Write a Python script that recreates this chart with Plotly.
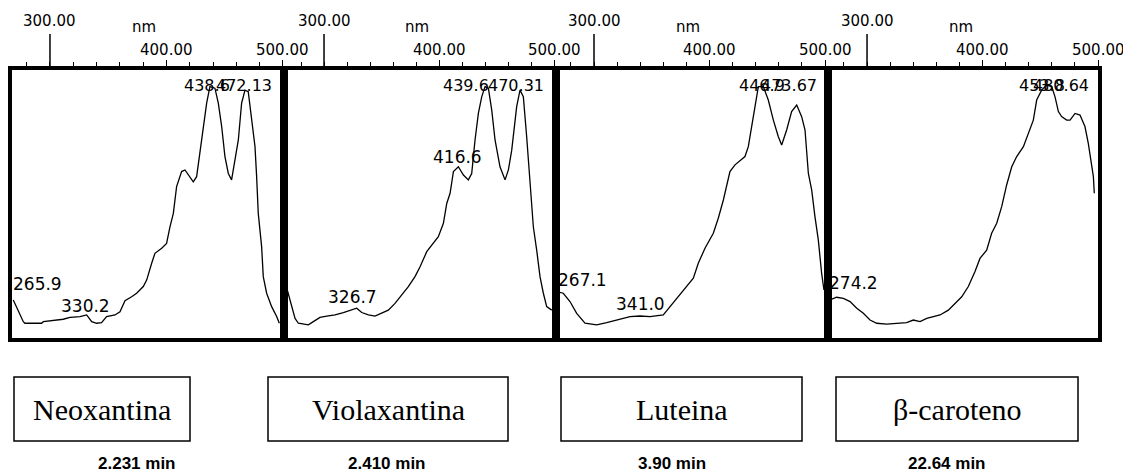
import plotly.graph_objects as go

W, H = 1123, 474

# ---------------- data ----------------
compounds = ["Neoxantina", "Violaxantina", "Luteina", "β-caroteno"]
ret_times = ["2.231 min", "2.410 min", "3.90 min", "22.64 min"]

neo_nm = [268.5, 272.8, 277.1, 278.5, 292.8, 294.3, 311.4, 317.2, 325.8, 331.5, 335.8, 340.1,
          344.3, 348.6, 355.8, 360.1, 364.4, 370.1, 374.4, 380.1, 383.0, 387.3, 390.1, 395.9,
          400.1, 403.0, 405.9, 408.7, 413.0, 415.9, 420.2, 423.0, 425.9, 428.8, 431.6, 434.5,
          437.3, 441.6, 444.5, 447.4, 450.2, 453.1, 455.9, 458.8, 461.7, 464.5, 467.4, 470.2,
          473.1, 476.0, 477.4, 478.8, 481.7, 483.1, 486.0, 490.3, 494.6, 496.9]
neo_abs = [0.142, 0.104, 0.061, 0.055, 0.055, 0.061, 0.070, 0.077, 0.080, 0.086, 0.061, 0.055,
           0.057, 0.080, 0.086, 0.098, 0.139, 0.154, 0.167, 0.192, 0.216, 0.279, 0.316, 0.335,
           0.353, 0.415, 0.465, 0.565, 0.621, 0.627, 0.602, 0.583, 0.602, 0.701, 0.789, 0.876,
           0.938, 0.932, 0.876, 0.789, 0.677, 0.614, 0.590, 0.664, 0.739, 0.876, 0.925, 0.919,
           0.826, 0.714, 0.602, 0.465, 0.341, 0.229, 0.167, 0.117, 0.080, 0.055]

vio_nm = [266.1, 269.0, 271.9, 274.8, 277.7, 286.4, 290.7, 296.5, 302.3, 309.6, 316.8, 322.6,
          328.4, 332.8, 338.6, 344.3, 350.1, 355.9, 361.7, 367.5, 373.3, 379.1, 383.5, 389.3,
          395.1, 399.4, 403.8, 406.7, 409.6, 412.5, 416.8, 421.2, 425.5, 428.4, 431.3, 434.2,
          437.1, 440.0, 442.9, 445.8, 448.7, 453.0, 457.4, 460.3, 463.2, 467.5, 470.4, 473.3,
          476.2, 479.1, 482.0, 484.9, 487.8, 490.7, 493.6, 498.0]
vio_abs = [0.210, 0.167, 0.117, 0.073, 0.055, 0.049, 0.061, 0.077, 0.082, 0.086, 0.095, 0.102,
           0.111, 0.095, 0.086, 0.082, 0.092, 0.104, 0.129, 0.160, 0.192, 0.229, 0.266, 0.322,
           0.356, 0.378, 0.428, 0.502, 0.540, 0.621, 0.639, 0.608, 0.590, 0.614, 0.739, 0.838,
           0.900, 0.938, 0.932, 0.851, 0.739, 0.639, 0.590, 0.627, 0.701, 0.863, 0.925, 0.900,
           0.751, 0.565, 0.415, 0.328, 0.229, 0.167, 0.117, 0.104]

lut_nm = [267.7, 273.4, 279.2, 285.0, 292.2, 302.3, 311.0, 319.6, 331.2, 339.8, 348.5, 360.0,
          365.8, 373.0, 380.2, 386.0, 390.3, 396.1, 403.3, 407.6, 412.0, 414.9, 417.7, 422.1,
          427.8, 430.7, 433.6, 436.5, 439.4, 442.3, 446.6, 450.9, 455.3, 459.6, 462.5, 466.8,
          471.1, 475.5, 479.8, 482.7, 485.6, 488.5, 491.3, 494.2, 497.1, 499.1]
lut_abs = [0.173, 0.167, 0.136, 0.092, 0.055, 0.049, 0.057, 0.067, 0.080, 0.082, 0.080, 0.086,
           0.117, 0.154, 0.192, 0.223, 0.279, 0.335, 0.391, 0.447, 0.515, 0.565, 0.621, 0.646,
           0.667, 0.677, 0.714, 0.789, 0.851, 0.938, 0.938, 0.888, 0.813, 0.751, 0.720, 0.776,
           0.845, 0.869, 0.826, 0.776, 0.614, 0.552, 0.453, 0.366, 0.241, 0.179]

bcar_nm = [268.0, 273.7, 279.5, 285.3, 291.1, 296.8, 302.6, 308.4, 317.0, 325.7, 334.3, 340.1,
           345.9, 351.7, 357.4, 363.2, 370.4, 376.2, 382.0, 387.7, 393.5, 397.8, 403.6, 407.9,
           412.3, 416.6, 420.9, 425.3, 429.6, 435.4, 439.7, 444.0, 446.9, 451.2, 455.6, 459.9,
           462.8, 465.7, 468.5, 472.9, 475.8, 480.1, 484.4, 488.7, 491.6, 494.5, 496.0, 496.8]
bcar_abs = [0.142, 0.152, 0.148, 0.136, 0.111, 0.092, 0.067, 0.055, 0.052, 0.055, 0.057, 0.067,
            0.061, 0.073, 0.080, 0.086, 0.104, 0.129, 0.154, 0.192, 0.248, 0.297, 0.328, 0.391,
            0.428, 0.490, 0.571, 0.639, 0.677, 0.714, 0.764, 0.813, 0.888, 0.925, 0.944, 0.938,
            0.900, 0.845, 0.826, 0.813, 0.813, 0.838, 0.832, 0.789, 0.726, 0.652, 0.602, 0.540]

# peak labels: (text, wavelength position, absorbance position, anchor, font size)
neo_labels = [("265.9", 267.4, 0.201, "left", 17), ("330.2", 308.6, 0.119, "left", 17),
              ("472.13", 491.4, 0.944, "right", 16), ("438.6", 414.2, 0.944, "left", 16)]
vio_labels = [("326.7", 302.6, 0.153, "left", 17), ("416.6", 393.9, 0.675, "left", 17),
              ("470.31", 492.2, 0.944, "right", 16), ("439.6", 402.6, 0.944, "left", 16)]
lut_labels = [("267.1", 268.0, 0.216, "left", 17), ("341.0", 318.2, 0.127, "left", 17),
              ("473.67", 493.9, 0.944, "right", 16), ("446.9", 424.7, 0.944, "left", 16)]
bcar_labels = [("274.2", 266.2, 0.205, "left", 17),
               ("480.64", 493.1, 0.944, "right", 16), ("453.8", 430.7, 0.944, "left", 16)]

axis_ticks = [300, 400, 500]
axis_ticktext = ["300.00", "400.00", "500.00"]
axis_unit = "nm"

# ---------------- layout helpers ----------------
def py(pix):
    return 1 - pix / H

def px(pix):
    return pix / W

panels = [
    dict(nm=neo_nm, ab=neo_abs, labels=neo_labels, rng=[267.4, 500.9], dom=[12, 284]),
    dict(nm=vio_nm, ab=vio_abs, labels=vio_labels, rng=[265.2, 501.7], dom=[284, 556]),
    dict(nm=lut_nm, ab=lut_abs, labels=lut_labels, rng=[267.1, 502.6], dom=[556, 828]),
    dict(nm=bcar_nm, ab=bcar_abs, labels=bcar_labels, rng=[266.2, 500.0], dom=[828, 1098]),
]

TOP, BOT = 70, 338
fig = go.Figure()
annotations = []
shapes = []
pix_font = "DejaVu Sans"

for i, p in enumerate(panels, start=1):
    xa = "x" if i == 1 else f"x{i}"
    ya = "y" if i == 1 else f"y{i}"
    fig.add_trace(go.Scatter(x=p["nm"], y=p["ab"], mode="lines",
                             line=dict(color="black", width=1.3),
                             xaxis=xa, yaxis=ya, showlegend=False, hoverinfo="skip"))
    fig.layout[f"xaxis{'' if i == 1 else i}"] = dict(
        domain=[px(p["dom"][0]), px(p["dom"][1])], range=p["rng"], anchor=ya, side="top",
        showline=True, linecolor="black", linewidth=4, mirror=True,
        tickvals=axis_ticks[1:], ticks="outside", ticklen=6, tickcolor="black", tickwidth=1,
        showticklabels=False, showgrid=False, zeroline=False, fixedrange=True,
        minor=dict(tick0=300, dtick=20, ticks="outside", ticklen=4, tickcolor="black",
                   tickwidth=1, showgrid=False),
    )
    fig.layout[f"yaxis{'' if i == 1 else i}"] = dict(
        domain=[py(BOT), py(TOP)], range=[0, 1], anchor=xa,
        showline=True, linecolor="black", linewidth=4, mirror=True,
        showticklabels=False, ticks="", showgrid=False, zeroline=False, fixedrange=True,
    )
    # long tick at 300
    shapes.append(dict(type="line", xref=xa, yref="paper", x0=axis_ticks[0], x1=axis_ticks[0],
                       y0=py(TOP - 2), y1=py(34), line=dict(color="black", width=1.5)))
    # axis texts
    annotations.append(dict(xref=xa, yref="paper", x=axis_ticks[0], y=py(21),
                            text=axis_ticktext[0], showarrow=False, xanchor="center",
                            yanchor="middle", font=dict(family=pix_font, size=15, color="black")))
    for tv, tt in zip(axis_ticks[1:], axis_ticktext[1:]):
        annotations.append(dict(xref=xa, yref="paper", x=tv, y=py(50), text=tt,
                                showarrow=False, xanchor="center", yanchor="middle",
                                font=dict(family=pix_font, size=15, color="black")))
    annotations.append(dict(xref=xa, yref="paper", x=381, y=py(27), text=axis_unit,
                            showarrow=False, xanchor="center", yanchor="middle",
                            font=dict(family=pix_font, size=15, color="black")))
    # peak labels
    for txt, lx, ly, anc, fs in p["labels"]:
        annotations.append(dict(xref=xa, yref=ya, x=lx, y=ly, text=txt, showarrow=False,
                                xanchor=anc, yanchor="middle", borderpad=0,
                                font=dict(family=pix_font, size=fs, color="black")))

# compound boxes and retention times
boxes = [(14, 190), (268, 508), (561, 802), (836, 1078)]
time_cx = [137, 387, 672, 947]
for (x0, x1), name, rt, tcx in zip(boxes, compounds, ret_times, time_cx):
    shapes.append(dict(type="rect", xref="paper", yref="paper", x0=px(x0), x1=px(x1),
                       y0=py(441), y1=py(377), line=dict(color="black", width=1.5),
                       fillcolor="rgba(0,0,0,0)"))
    annotations.append(dict(xref="paper", yref="paper", x=px((x0 + x1) / 2), y=py(409),
                            text=name, showarrow=False, xanchor="center", yanchor="middle",
                            font=dict(family="Liberation Serif", size=30, color="black")))
    annotations.append(dict(xref="paper", yref="paper", x=px(tcx), y=py(463),
                            text=f"<b>{rt}</b>", showarrow=False, xanchor="center",
                            yanchor="middle",
                            font=dict(family="Liberation Sans", size=17, color="black")))

fig.update_layout(width=W, height=H, margin=dict(l=0, r=0, t=0, b=0),
                  paper_bgcolor="white", plot_bgcolor="white",
                  annotations=annotations, shapes=shapes, showlegend=False)

fig.write_html("out.html")
